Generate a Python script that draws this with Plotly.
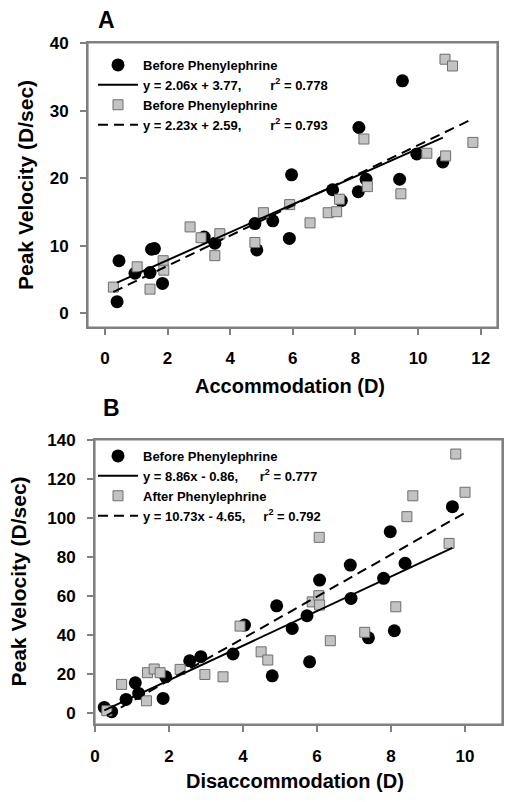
import plotly.graph_objects as go

# ---------------- Panel A data (Accommodation) ----------------
a_before_x = [0.39, 0.45, 0.96, 1.44, 1.49, 1.58, 1.84, 3.17, 3.51, 4.79, 4.85, 5.36,
              5.89, 5.96, 7.27, 7.55, 8.09, 8.11, 8.34, 9.41, 9.50, 9.96, 10.79]
a_before_y = [1.75, 7.8, 5.95, 6.05, 9.5, 9.6, 4.45, 11.3, 10.4, 13.3, 9.4, 13.7,
              11.1, 20.5, 18.3, 16.7, 18.0, 27.5, 19.85, 19.85, 34.4, 23.6, 22.4]
a_after_x = [0.27, 1.03, 1.44, 1.86, 1.88, 2.72, 3.07, 3.51, 3.67, 4.79, 5.06, 5.90,
             6.55, 7.13, 7.40, 7.49, 8.27, 8.38, 9.45, 10.28, 10.86, 10.88, 11.10, 11.75]
a_after_y = [3.9, 6.9, 3.6, 7.8, 6.4, 12.8, 11.2, 8.55, 11.8, 10.5, 14.9, 16.1,
             13.4, 14.9, 15.05, 16.9, 25.8, 18.76, 17.7, 23.7, 37.6, 23.3, 36.6, 25.3]
a_fit_before = (2.06, 3.77)
a_fit_after = (2.23, 2.59)
a_labels = ["Before Phenylephrine",
            "y = 2.06x + 3.77," + "\u00a0" * 8 + "r<sup>2</sup> = 0.778",
            "Before Phenylephrine",
            "y = 2.23x + 2.59," + "\u00a0" * 8 + "r<sup>2</sup> = 0.793"]
a_xticks = [0, 2, 4, 6, 8, 10, 12]
a_yticks = [0, 10, 20, 30, 40]

# ---------------- Panel B data (Disaccommodation) ----------------
b_before_x = [0.25, 0.45, 0.84, 1.09, 1.18, 1.84, 1.91, 2.56, 2.86, 3.73, 4.04, 4.79,
              4.91, 5.33, 5.73, 5.80, 6.07, 6.90, 6.92, 7.39, 7.80, 7.98, 8.09, 8.38, 9.66]
b_before_y = [2.9, 0.7, 7.0, 15.5, 10.1, 7.5, 18.6, 26.8, 28.9, 30.3, 45.1, 19.1,
              55.0, 43.4, 49.9, 26.3, 68.2, 75.9, 58.8, 38.6, 69.1, 93.0, 42.2, 76.8, 105.8]
b_after_x = [0.32, 0.72, 1.39, 1.42, 1.60, 1.76, 2.30, 2.97, 3.46, 3.92, 4.49, 4.67,
             5.87, 6.05, 6.06, 6.07, 6.36, 7.29, 8.13, 8.43, 8.59, 9.57, 9.75, 10.00]
b_after_y = [1.2, 14.7, 6.3, 20.7, 22.6, 20.7, 22.4, 19.8, 18.6, 44.6, 31.4, 27.2,
             57.0, 60.2, 90.1, 55.4, 37.1, 41.4, 54.5, 100.7, 111.4, 87.0, 132.8, 113.2]
b_fit_before = (8.86, -0.86)
b_fit_after = (10.73, -4.65)
b_labels = ["Before Phenylephrine",
            "y = 8.86x - 0.86," + "\u00a0" * 6 + "r<sup>2</sup> = 0.777",
            "After Phenylephrine",
            "y = 10.73x - 4.65," + "\u00a0" * 5 + "r<sup>2</sup> = 0.792"]
b_xticks = [0, 2, 4, 6, 8, 10]
b_yticks = [0, 20, 40, 60, 80, 100, 120, 140]

FONT = "Liberation Sans, Arial, Helvetica, sans-serif"
W, H = 512, 802
SQ_FILL = "#c3c3c3"
SQ_LINE = "#6e6e6e"
FRAME = "#808080"


def fit_line(xs, coef):
    lo, hi = min(xs), max(xs)
    return [lo, hi], [coef[0] * lo + coef[1], coef[0] * hi + coef[1]]


fig = go.Figure()


def add_panel(bx, by, ax, ay, cb, ca, labels, xa, ya, leg):
    fig.add_trace(go.Scatter(x=bx, y=by, mode="markers", name=labels[0],
                             marker=dict(symbol="circle", size=13, color="black"),
                             xaxis=xa, yaxis=ya, legend=leg, legendrank=1))
    fig.add_trace(go.Scatter(x=ax, y=ay, mode="markers", name=labels[2],
                             marker=dict(symbol="square", size=10, color=SQ_FILL,
                                         line=dict(color=SQ_LINE, width=1)),
                             xaxis=xa, yaxis=ya, legend=leg, legendrank=3))
    lx, ly = fit_line(bx, cb)
    fig.add_trace(go.Scatter(x=lx, y=ly, mode="lines", name=labels[1],
                             line=dict(color="black", width=2),
                             xaxis=xa, yaxis=ya, legend=leg, legendrank=2))
    lx, ly = fit_line(ax, ca)
    fig.add_trace(go.Scatter(x=lx, y=ly, mode="lines", name=labels[3],
                             line=dict(color="black", width=2, dash="10px,6px"),
                             xaxis=xa, yaxis=ya, legend=leg, legendrank=4))


add_panel(a_before_x, a_before_y, a_after_x, a_after_y, a_fit_before, a_fit_after,
          a_labels, "x", "y", "legend")
add_panel(b_before_x, b_before_y, b_after_x, b_after_y, b_fit_before, b_fit_after,
          b_labels, "x2", "y2", "legend2")

tickfont = dict(family=FONT, size=17, color="black", weight="bold")
ax_common = dict(showline=True, mirror=True, linecolor=FRAME, linewidth=2,
                 ticks="outside", ticklen=6, tickcolor=FRAME, tickwidth=2,
                 showgrid=False, zeroline=False, tickfont=tickfont)

legend_common = dict(font=dict(family=FONT, size=13, color="black", weight="bold"),
                     bgcolor="rgba(0,0,0,0)", borderwidth=0, xanchor="left",
                     yanchor="top", itemwidth=40, traceorder="normal")


def ann(text, x, y, size, angle=0):
    return dict(text=text, x=x / W, y=1 - y / H, xref="paper", yref="paper",
                xanchor="center", yanchor="middle", showarrow=False, textangle=angle,
                font=dict(family=FONT, size=size, color="black", weight="bold"))


# plot-area frames (axis-domain relative)
frames = [dict(type="rect", xref=f"{xr} domain", yref=f"{yr} domain",
               x0=0, x1=1, y0=0, y1=1, layer="above",
               line=dict(color=FRAME, width=1.2), fillcolor="rgba(0,0,0,0)")
          for xr, yr in (("x", "y"), ("x2", "y2"))]

fig.update_layout(
    width=W, height=H,
    margin=dict(l=0, r=0, t=0, b=0, pad=0, autoexpand=False),
    paper_bgcolor="white", plot_bgcolor="white",
    showlegend=True,
    shapes=frames,
    xaxis=dict(domain=[88 / W, 497 / W], range=[-0.54, 12.52], tickvals=a_xticks,
               anchor="y", ticklabelstandoff=9, **ax_common),
    yaxis=dict(domain=[1 - 327 / H, 1 - 43 / H], range=[-2.0, 40], tickvals=a_yticks,
               anchor="x", ticklabelstandoff=8, **ax_common),
    xaxis2=dict(domain=[95 / W, 502 / W], range=[0, 11.0], tickvals=b_xticks,
                anchor="y2", ticklabelstandoff=10, **ax_common),
    yaxis2=dict(domain=[1 - 724 / H, 1 - 440 / H], range=[-5.6, 140], tickvals=b_yticks,
                anchor="x2", ticklabelstandoff=8, **ax_common),
    legend=dict(x=93 / W, y=1 - 50 / H, **legend_common),
    legend2=dict(x=93 / W, y=1 - 441 / H, **legend_common),
    annotations=[
        ann("A", 106, 20, 23),
        ann("B", 111, 408, 23),
        ann("Accommodation (D)", 290, 386, 20),
        ann("Disaccommodation (D)", 295, 781, 20),
        ann("Peak Velocity (D/sec)", 25, 185, 21, -90),
        ann("Peak Velocity (D/sec)", 17.5, 582, 21, -90),
    ],
)

fig.write_html(
    "out.html",
    post_script=(
        "document.body.style.margin='0';document.body.style.overflow='hidden';"
        "var s=document.createElement('style');"
        "s.textContent='.modebar-container{visibility:hidden !important;}';"
        "document.head.appendChild(s);"
    ),
)
